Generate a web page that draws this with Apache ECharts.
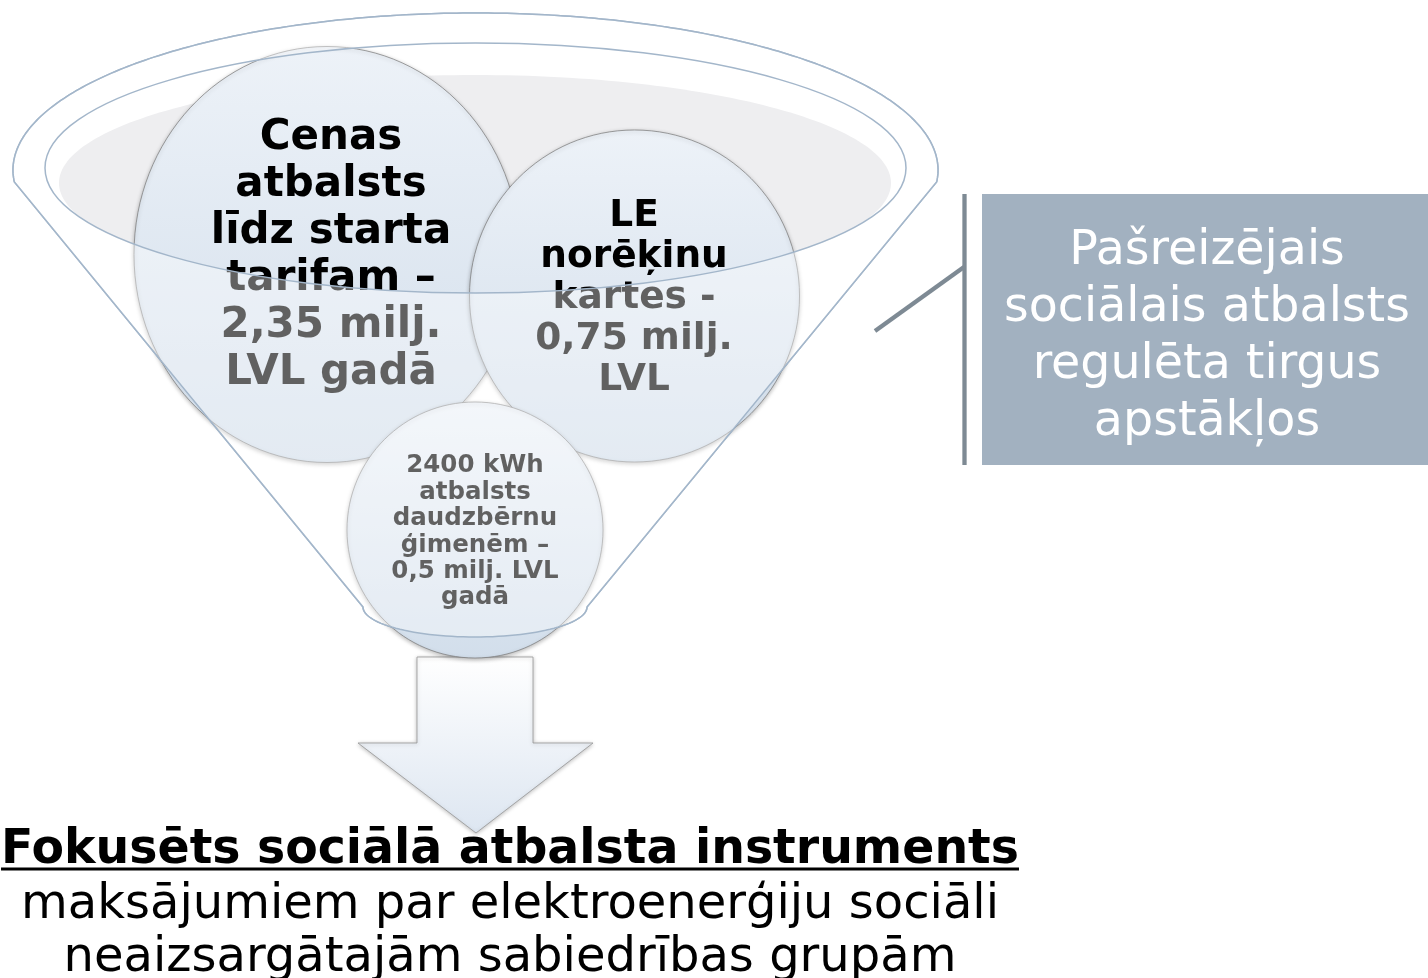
<!DOCTYPE html>
<html>
<head>
<meta charset="utf-8">
<script src="https://cdn.jsdelivr.net/npm/echarts@6/dist/echarts.min.js"></script>
<style>
html,body{margin:0;padding:0;background:#fff;}
#main{width:1428px;height:978px;}
</style>
</head>
<body>
<div id="main"></div>
<script>
// ---- content ----
const stage1Lines = ['Cenas', 'atbalsts', 'līdz starta', 'tarifam –', '2,35 milj.', 'LVL gadā'];
const stage2Lines = ['LE', 'norēķinu', 'kartes -', '0,75 milj.', 'LVL'];
const stage3Lines = ['2400 kWh', 'atbalsts', 'daudzbērnu', 'ģimenēm –', '0,5 milj. LVL', 'gadā'];
const panelLines = ['Pašreizējais', 'sociālais atbalsts', 'regulēta tirgus', 'apstākļos'];
const outcomeTitle = 'Fokusēts sociālā atbalsta instruments';
const outcomeLines = ['maksājumiem par elektroenerģiju sociāli', 'neaizsargātajām sabiedrības grupām'];

// ---- layout ----
const FONT = '"DejaVu Sans", Verdana, sans-serif';

// custom multi-ring path shape (nonzero fill => reversed ring makes a hole)
echarts.graphic.registerShape('multiPath', echarts.graphic.extendShape({
  type: 'multiPath',
  shape: {rings: [], closed: true},
  buildPath: function (ctx, shape) {
    shape.rings.forEach(function (ring) {
      ring.forEach(function (p, i) { i ? ctx.lineTo(p[0], p[1]) : ctx.moveTo(p[0], p[1]); });
      if (shape.closed) ctx.closePath();
    });
  }
}));

function arcPts(cx, cy, rx, ry, t0, t1, n) {
  const pts = [];
  for (let i = 0; i <= n; i++) {
    const t = t0 + (t1 - t0) * i / n;
    pts.push([cx + rx * Math.cos(t), cy + ry * Math.sin(t)]);
  }
  return pts;
}

// funnel geometry
const OUT = {cx: 475.5, cy: 170, rx: 462.5, ry: 157};
const INN = {cx: 475.5, cy: 168, rx: 430.5, ry: 125};
const d = Math.asin(12 / OUT.ry);
const outerRing = [[363, 607]]
  .concat(arcPts(OUT.cx, OUT.cy, OUT.rx, OUT.ry, Math.PI - d, 2 * Math.PI + d, 240))
  .concat([[587, 607]])
  .concat(arcPts(475, 607, 112, 30, 0, Math.PI, 60));
const innerRingCCW = arcPts(INN.cx, INN.cy, INN.rx, INN.ry, 0, -2 * Math.PI, 240);

const chart = echarts.init(document.getElementById('main'), null, {renderer: 'canvas'});

const outline = '#a3b6ca';
const circleFill = {type: 'linear', x: 0, y: 0, x2: 0, y2: 1, colorStops: [
  {offset: 0, color: '#edf2f8'}, {offset: 1, color: '#d2deeb'}]};
const circleStyle = {fill: circleFill, stroke: 'rgba(120,120,120,0.7)', lineWidth: 1,
  shadowBlur: 4, shadowColor: 'rgba(0,0,0,0.28)', shadowOffsetY: 1.5};

function measure(text, font) {
  const c = document.createElement('canvas').getContext('2d');
  c.font = font;
  return c.measureText(text).width;
}
const titleFont = 'bold 47.4px ' + FONT;
const titleW = measure(outcomeTitle, titleFont);
const titleCx = 510;

const elements = [
  // funnel back
  {type: 'multiPath', z: 1, shape: {rings: [outerRing]}, style: {fill: '#ffffff', stroke: outline, lineWidth: 1.5}},
  {type: 'ellipse', z: 2, shape: {cx: 475, cy: 183, rx: 416, ry: 108}, style: {fill: '#eeeef0'}},
  // arrow
  {type: 'polygon', z: 3, shape: {points: [[417, 657], [533, 657], [533, 743], [593, 743], [476, 833], [358, 743], [417, 743]]},
    style: {fill: {type: 'linear', x: 0, y: 0, x2: 0, y2: 1, colorStops: [{offset: 0, color: '#ffffff'}, {offset: 1, color: '#dde6f1'}]},
      stroke: 'rgba(150,150,150,0.8)', lineWidth: 1, shadowBlur: 4, shadowColor: 'rgba(0,0,0,0.25)', shadowOffsetY: 1}},
  // circles
  {type: 'ellipse', z: 4, shape: {cx: 327, cy: 254.5, rx: 193, ry: 208}, style: circleStyle},
  {type: 'text', z: 5, style: {text: stage1Lines.join('\n'), x: 331, y: 256, align: 'center', verticalAlign: 'middle',
    font: 'bold 42px ' + FONT, lineHeight: 47, fill: '#000'}},
  {type: 'ellipse', z: 6, shape: {cx: 634.5, cy: 296, rx: 165, ry: 166}, style: circleStyle},
  {type: 'text', z: 7, style: {text: stage2Lines.join('\n'), x: 634, y: 298, align: 'center', verticalAlign: 'middle',
    font: 'bold 37.5px ' + FONT, lineHeight: 41, fill: '#000'}},
  {type: 'ellipse', z: 8, shape: {cx: 475, cy: 530, rx: 128, ry: 128}, style: circleStyle},
  {type: 'text', z: 9, style: {text: stage3Lines.join('\n'), x: 475, y: 532, align: 'center', verticalAlign: 'middle',
    font: 'bold 24.5px ' + FONT, lineHeight: 26.4, fill: '#000'}},
  // funnel front (semi-transparent)
  {type: 'multiPath', z: 10, shape: {rings: [outerRing, innerRingCCW]}, style: {fill: 'rgba(255,255,255,0.38)'}},
  // outlines on top
  {type: 'multiPath', z: 11, shape: {rings: [outerRing]}, style: {fill: 'none', stroke: outline, lineWidth: 1.5}},
  {type: 'ellipse', z: 11, shape: {cx: INN.cx, cy: INN.cy, rx: INN.rx, ry: INN.ry}, style: {fill: 'none', stroke: outline, lineWidth: 1.5}},
  // right panel
  {type: 'line', z: 12, shape: {x1: 875, y1: 331, x2: 964, y2: 267}, style: {stroke: '#7e8a94', lineWidth: 4.3}},
  {type: 'line', z: 12, shape: {x1: 964.5, y1: 194, x2: 964.5, y2: 465}, style: {stroke: '#7e8a94', lineWidth: 4.3}},
  {type: 'rect', z: 12, shape: {x: 982, y: 194, width: 446, height: 271}, style: {fill: '#a2b1c0'}},
  {type: 'text', z: 13, style: {text: panelLines.join('\n'), x: 1207, y: 337, align: 'center', verticalAlign: 'middle',
    font: '47.5px ' + FONT, lineHeight: 57, fill: '#ffffff'}},
  // outcome text
  {type: 'text', z: 14, style: {text: outcomeTitle, x: titleCx, y: 851, align: 'center', verticalAlign: 'middle',
    font: titleFont, fill: '#000'}},
  {type: 'line', z: 14, shape: {x1: titleCx - titleW / 2, y1: 869, x2: titleCx + titleW / 2, y2: 869}, style: {stroke: '#000', lineWidth: 3}},
  {type: 'text', z: 14, style: {text: outcomeLines.join('\n'), x: titleCx, y: 932, align: 'center', verticalAlign: 'middle',
    font: '48px ' + FONT, lineHeight: 53.5, fill: '#000'}}
];

chart.setOption({animation: false, graphic: {elements: elements}});
</script>
</body>
</html>
